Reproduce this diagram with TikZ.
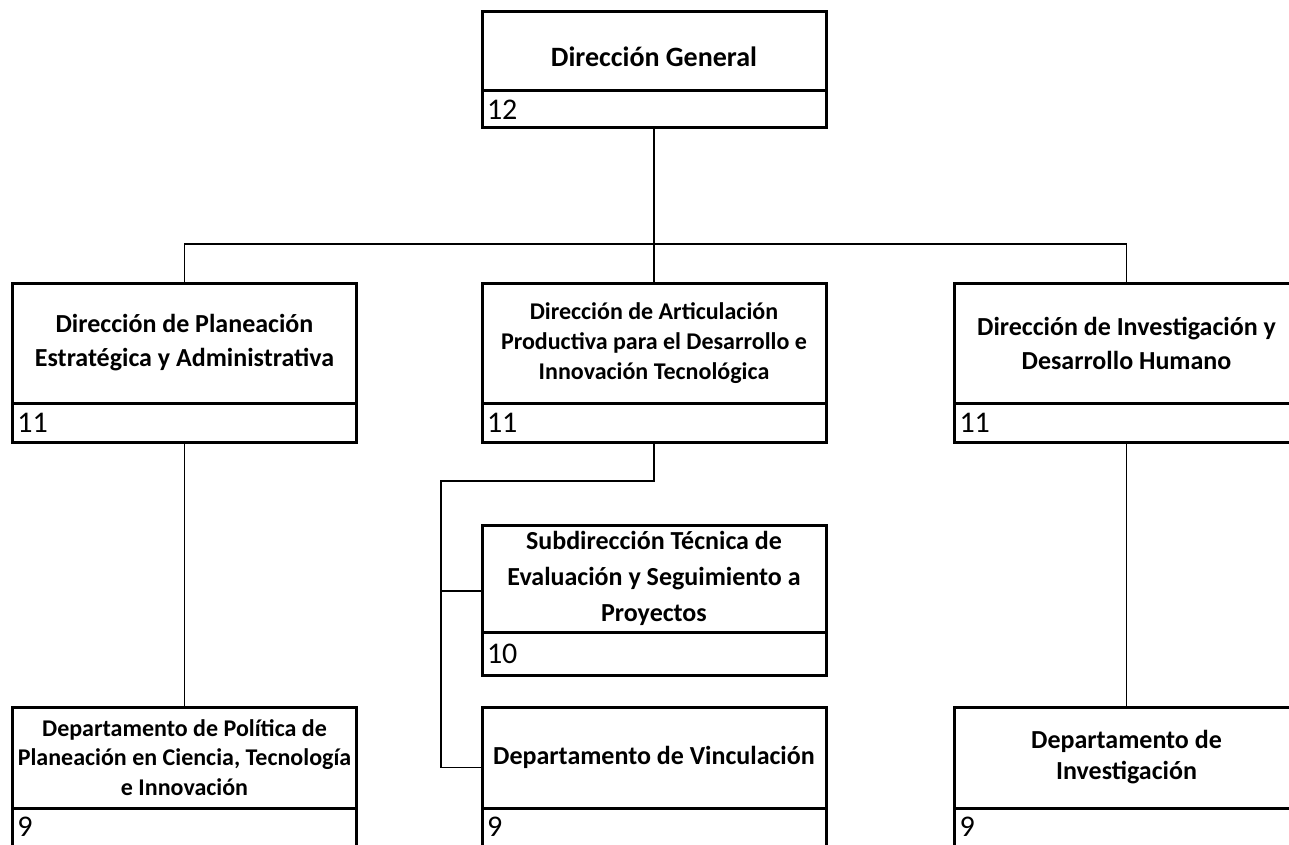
\documentclass[tikz,border=0pt]{standalone}
\usepackage{fontspec}
\setmainfont{Carlito}
\usetikzlibrary{positioning,calc}
\tikzset{
	titulo/.style={draw, line width=1.5pt, minimum width=172pt, inner xsep=1pt, outer sep=0pt,
		align=center, anchor=north, font=\bfseries\fontsize{13}{17}\selectfont},
	chico/.style={font=\bfseries\fontsize{12}{14.8}\selectfont},
	nivel/.style={draw, line width=1.5pt, minimum width=172pt, text width=167pt, outer sep=0pt,
		inner xsep=2.5pt, inner ysep=0pt, align=left, anchor=north,
		font=\fontsize{15}{16}\selectfont},
	linea/.style={line width=0.75pt}
}

\begin{document}
\begin{tikzpicture}[x=0.5pt, y=-0.5pt]
	\clip (0,0) rectangle (1289,845);
	\fill[white] (0,0) rectangle (1289,845);

	\node[titulo, minimum height=39.5pt, font=\bfseries\fontsize{14}{17}\selectfont] (dg) at (654,12) {\rule{0pt}{15pt}Dirección General};
	\node[nivel, minimum height=18.5pt] (dg-n) at (dg.south) {12};

	\node[titulo, minimum height=60pt] (dp) at (184.5,283) {Dirección de Planeación\\Estratégica y Administrativa};
	\node[nivel, minimum height=19.5pt] (dp-n) at (dp.south) {11};
	\node[titulo, chico, minimum height=60pt] (da) at (654,283) {Dirección de Articulación\\Productiva para el Desarrollo e\\Innovación Tecnológica};
	\node[nivel, minimum height=19.5pt] (da-n) at (da.south) {11};
	\node[titulo, minimum height=60pt] (di) at (1126.5,283) {Dirección de Investigación y\\Desarrollo Humano};
	\node[nivel, minimum height=19.5pt] (di-n) at (di.south) {11};

	\node[titulo, minimum height=49.5pt, font=\bfseries\fontsize{13}{18}\selectfont] (st) at (654,525) {Subdirección Técnica de\\Evaluación y Seguimiento a\\Proyectos};
	\node[nivel, minimum height=21.5pt] (st-n) at (st.south) {10};

	\node[titulo, chico, minimum height=50.5pt] (dpp) at (184.5,707) {Departamento de Política de\\Planeación en Ciencia, Tecnología\\e Innovación};
	\node[nivel, minimum height=19pt] (dpp-n) at (dpp.south) {9};
	\node[titulo, minimum height=50.5pt] (dv) at (654,707) {Departamento de Vinculación};
	\node[nivel, minimum height=19pt] (dv-n) at (dv.south) {9};
	\node[titulo, minimum height=50.5pt, font=\bfseries\fontsize{13}{15.5}\selectfont] (dip) at (1126.5,707) {Departamento de\\Investigación};
	\node[nivel, minimum height=19pt] (dip-n) at (dip.south) {9};

	\coordinate (barra) at (654,244);
	\coordinate (codo) at (441,481);

	\draw[linea] (dg-n) -- (da);
	\draw[linea] (dp.north) |- (barra) -| (di.north);
	\draw[linea] (dp-n) -- (dpp);
	\draw[linea] (di-n) -- (dip);
	\draw[linea] (da-n.south) |- (codo) |- ([yshift=-5pt]dv.west);
	\draw[linea] (codo) |- ([yshift=-6pt]st.west);
\end{tikzpicture}
\end{document}
